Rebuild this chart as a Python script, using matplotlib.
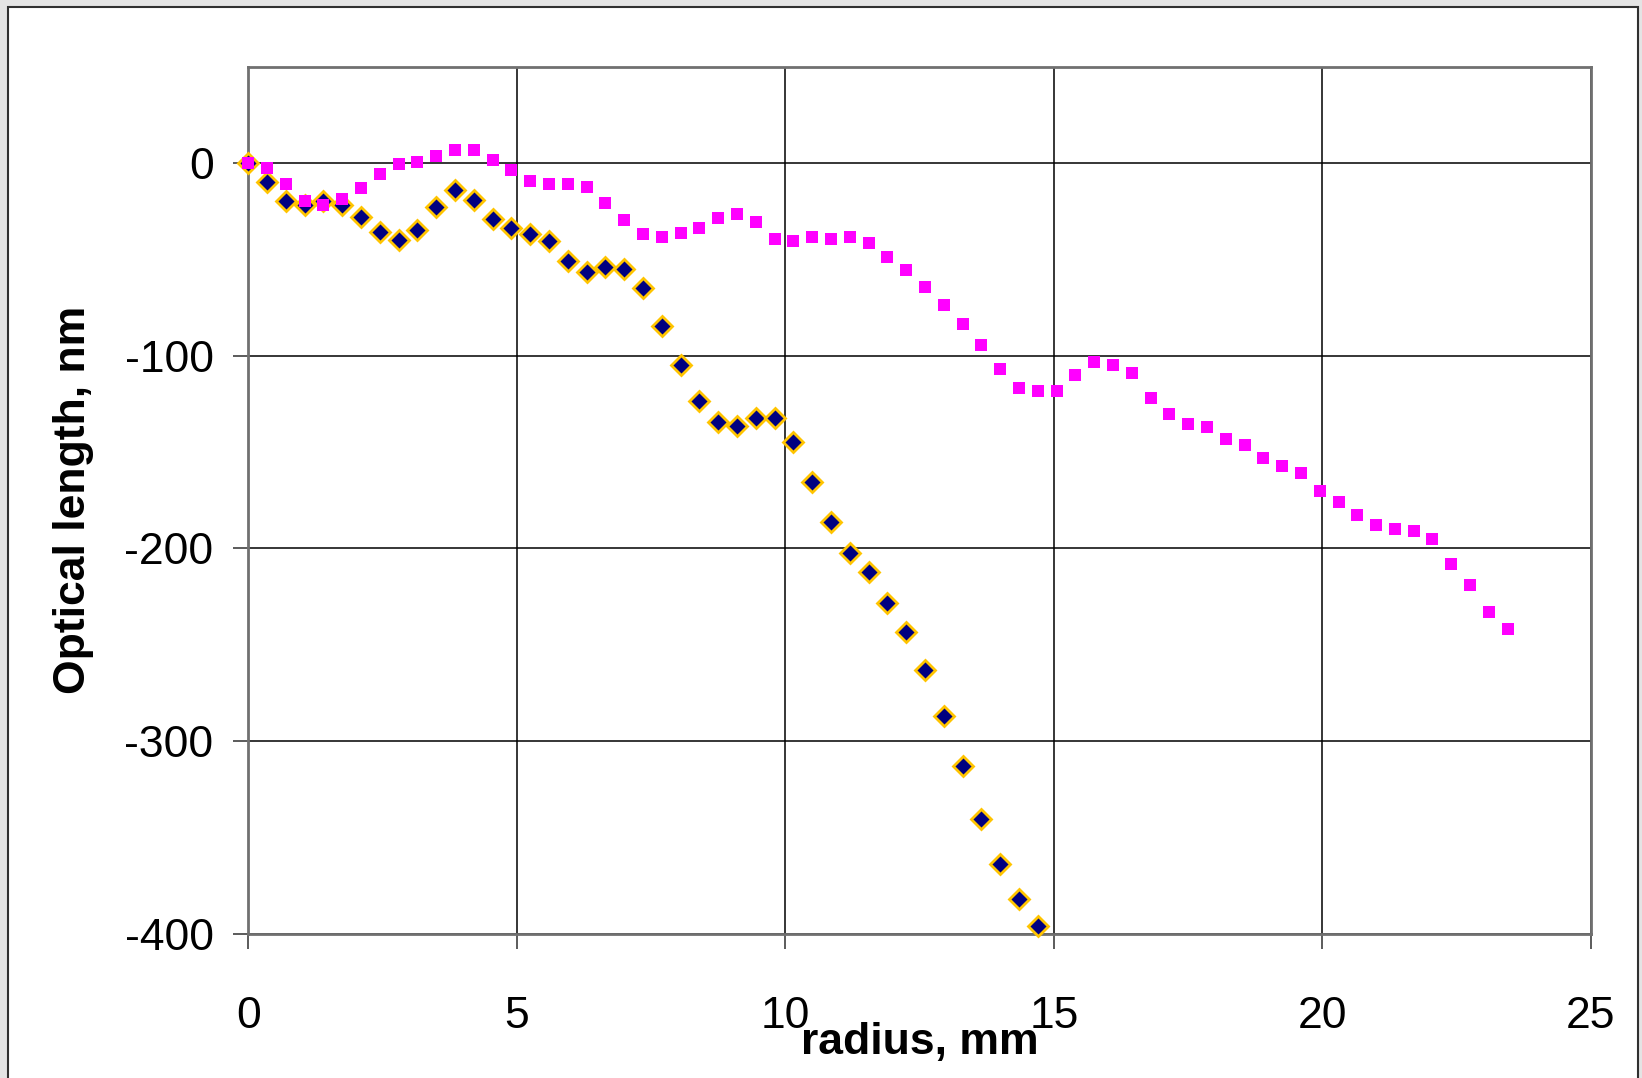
import matplotlib.pyplot as plt
from matplotlib.patches import Rectangle

plt.rcParams['font.family'] = ['Liberation Sans', 'DejaVu Sans']
plt.rcParams['axes.unicode_minus'] = False

# radius positions, mm
r_blue = [0.0, 0.35, 0.7, 1.05, 1.4, 1.75, 2.1, 2.45, 2.8, 3.15, 3.5, 3.85, 4.2, 4.55,
          4.9, 5.25, 5.6, 5.95, 6.3, 6.65, 7.0, 7.35, 7.7, 8.05, 8.4, 8.75, 9.1, 9.45,
          9.8, 10.15, 10.5, 10.85, 11.2, 11.55, 11.9, 12.25, 12.6, 12.95, 13.3, 13.65,
          14.0, 14.35, 14.7]
blue = [0, -10, -19.7, -21.6, -19.5, -21.8, -28, -35.6, -39.7, -34.6, -22.8, -14.2, -19,
        -29, -33.9, -36.6, -40.6, -51, -56.7, -54, -54.8, -64.6, -84.8, -105, -123.7,
        -134.5, -136.6, -132.5, -132.5, -144.7, -165.7, -186.5, -202.5, -212.4, -228.5,
        -243.4, -263, -287, -313, -340.5, -363.9, -382, -396]

r_pink = [0.0, 0.35, 0.7, 1.05, 1.4, 1.75, 2.1, 2.45, 2.8, 3.15, 3.5, 3.85, 4.2, 4.55,
          4.9, 5.25, 5.6, 5.95, 6.3, 6.65, 7.0, 7.35, 7.7, 8.05, 8.4, 8.75, 9.1, 9.45,
          9.8, 10.15, 10.5, 10.85, 11.2, 11.55, 11.9, 12.25, 12.6, 12.95, 13.3, 13.65,
          14.0, 14.35, 14.7, 15.05, 15.4, 15.75, 16.1, 16.45, 16.8, 17.15, 17.5, 17.85,
          18.2, 18.55, 18.9, 19.25, 19.6, 19.95, 20.3, 20.65, 21.0, 21.35, 21.7, 22.05,
          22.4, 22.75, 23.1, 23.45]
pink = [0, -2.6, -10.7, -19.7, -21.8, -18.7, -12.8, -5.5, -0.3, 0.5, 3.6, 6.6, 6.6, 1.4,
        -3.4, -9.5, -10.7, -10.7, -12.6, -20.5, -29.6, -36.6, -38.5, -36.5, -33.5, -28.5,
        -26.5, -30.4, -39.6, -40.6, -38.5, -39.6, -38.5, -41.5, -48.6, -55.5, -64.5,
        -73.5, -83.5, -94.5, -107, -117, -118.5, -118.5, -110, -103.3, -105, -109,
        -122.2, -130.2, -135.2, -137.1, -143, -146.1, -153, -157, -161, -170, -176,
        -182.9, -187.9, -190, -190.9, -195, -208, -219.2, -233, -242]

x_ticks = [0, 5, 10, 15, 20, 25]
y_ticks = [-400, -300, -200, -100, 0]

fig = plt.figure(figsize=(16.42, 10.78), dpi=100, facecolor='#e4e4e4')
fig.patches.append(Rectangle((8 / 1642, -0.01), 1630 / 1642, 1.01 - 7 / 1078,
                             transform=fig.transFigure, facecolor='white',
                             edgecolor='#303030', linewidth=1.5, zorder=-10))

ax = fig.add_axes([0.1512, 0.1339, 0.8177, 0.8042])
ax.set_zorder(1)
ax.set_facecolor('white')

ax.plot(r_blue, blue, linestyle='none', marker='D', markersize=10,
        markerfacecolor='#000080', markeredgecolor='#FFC400', markeredgewidth=2,
        clip_on=False, zorder=3)
ax.plot(r_pink, pink, linestyle='none', marker='s', markersize=9,
        markerfacecolor='#FF00FF', markeredgecolor='#FF00FF', markeredgewidth=0,
        clip_on=False, zorder=4)

ax.set_xlim(0, 25)
ax.set_ylim(-400, 50)
ax.set_xticks(x_ticks)
ax.set_yticks(y_ticks)
ax.grid(True, color='black', linewidth=1.1)
ax.set_axisbelow(True)

for s in ax.spines.values():
    s.set_color('#707070')
    s.set_linewidth(2)

ax.tick_params(axis='both', direction='out', length=11, width=1.2, color='#404040',
               labelsize=32)
ax.tick_params(axis='x', pad=34)
ax.tick_params(axis='y', pad=14)

ax.set_ylabel('Optical length, nm', fontsize=32, fontweight='bold')
ax.yaxis.set_label_coords(-0.1304, 0.5)
ax.yaxis.label.set_va('center')
ax.set_xlabel('radius, mm', fontsize=32, fontweight='bold')
ax.xaxis.set_label_coords(0.5, -0.125)
ax.xaxis.label.set_va('center')

fig.savefig('out.png', dpi=100, facecolor=fig.get_facecolor())
